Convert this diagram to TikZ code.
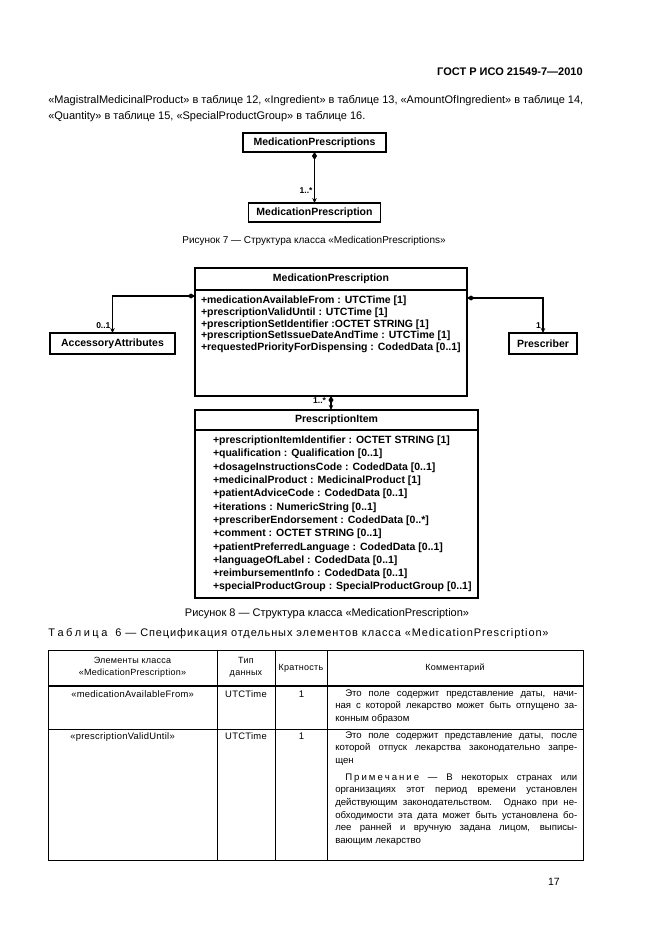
\documentclass[tikz,border=0pt]{standalone}
\usepackage{fontspec}
\setmainfont{Liberation Sans}
\newfontfamily\widefont[LetterSpace=8]{Liberation Sans}
\newfontfamily\cellfont[LetterSpace=3]{Liberation Sans}
\usetikzlibrary{arrows.meta,positioning}
\tikzstyle{classhead} = [rectangle, draw, line width=1.3pt, outer sep=0pt, inner sep=0pt,
    font=\fontsize{10.5}{11}\selectfont\bfseries, text centered]
\tikzstyle{classbody} = [rectangle, draw, line width=1.3pt, outer sep=0pt, inner ysep=5pt,
    font=\fontsize{10.5}{11.7}\selectfont\bfseries]
\tikzstyle{comp} = [{Diamond[length=8pt,width=5pt]}-{Stealth[length=5pt,width=4.5pt]},
    line width=1.1pt]
\tikzstyle{mult} = [font=\fontsize{8.5}{9}\selectfont\bfseries, inner sep=1.5pt]
\tikzstyle{cell} = [font=\fontsize{9.6}{12.7}\selectfont, inner sep=0pt]
\tikzstyle{note} = [cell, anchor=north west, text width=242pt, align=justify]

\begin{document}
\begin{tikzpicture}[x=1pt,y=-1pt,semithick]
  \fill[white] (0,0) rectangle (661,936);
  \useasboundingbox (0,0) rectangle (661,936);

  % header and text
  \node[anchor=east, font=\fontsize{11}{13}\selectfont\bfseries, inner sep=0pt] (gost) at (583,72)
      {ГОСТ Р ИСО 21549-7—2010};
  \node[anchor=north west, text width=535pt, align=justify, inner sep=0pt,
        font=\fontsize{11}{16}\selectfont] (para) at (48,95)
      {«MagistralMedicinalProduct» в таблице 12, «Ingredient» в таблице 13, «AmountOfIngredient» в таблице 14,\linebreak
       «Quantity» в таблице 15, «SpecialProductGroup» в таблице 16.};

  % figure 7
  \node[classhead, minimum width=143pt, minimum height=19pt] (mps) at (314.5,142.5) {MedicationPrescriptions};
  \node[classhead, minimum width=132pt, minimum height=19pt] (mpone) at (314.5,212.5) {MedicationPrescription};
  \draw[comp] (mps) -- node[mult, left, pos=0.75] {1..*} (mpone);
  \node[font=\fontsize{10}{12}\selectfont] (cap7) at (314,241)
      {Рисунок 7 — Структура класса «MedicationPrescriptions»};

  % figure 8
  \node[classhead, minimum width=272pt, minimum height=22pt] (mp) at (331,279) {MedicationPrescription};
  \node[classbody, inner xsep=6pt, inner ysep=6pt, below=0pt of mp] (mpb)
      {\parbox[t][94pt][t]{260pt}{\raggedright
       +medicationAvailableFrom : UTCTime [1]\\
       +prescriptionValidUntil : UTCTime [1]\\
       +prescriptionSetIdentifier :OCTET STRING [1]\\
       +prescriptionSetIssueDateAndTime : UTCTime [1]\\
       +requestedPriorityForDispensing : CodedData [0..1]}};
  \node[classhead, minimum width=125pt, minimum height=21pt] (acc) at (112.5,343.5) {AccessoryAttributes};
  \node[classhead, minimum width=68pt, minimum height=21pt] (presc) at (543,343.5) {Prescriber};
  \node[classhead, minimum width=283pt, minimum height=20pt] (item) at (336.5,420) {PrescriptionItem};
  \node[classbody, inner xsep=0pt, inner ysep=6pt, below=0pt of item,
        font=\fontsize{10.5}{13.3}\selectfont\bfseries] (itemb)
      {\parbox[t][156pt][t]{283pt}{\raggedright\leftskip=18pt
       +prescriptionItemIdentifier : OCTET STRING [1]\\
       +qualification : Qualification [0..1]\\
       +dosageInstructionsCode : CodedData [0..1]\\
       +medicinalProduct : MedicinalProduct [1]\\
       +patientAdviceCode : CodedData [0..1]\\
       +iterations : NumericString [0..1]\\
       +prescriberEndorsement : CodedData [0..*]\\
       +comment : OCTET STRING [0..1]\\
       +patientPreferredLanguage : CodedData [0..1]\\
       +languageOfLabel : CodedData [0..1]\\
       +reimbursementInfo : CodedData [0..1]\\
       +specialProductGroup : SpecialProductGroup [0..1]}};

  \draw[comp] ([yshift=-6pt]mpb.north west) -| node[mult, left, pos=0.9] {0..1} (acc);
  \draw[comp] ([yshift=-8pt]mpb.north east) -| node[mult, left, pos=0.9] {1} (presc);
  \draw[comp] (mpb.south) -- node[mult, left=3pt, pos=0.3] {1..*} (mpb.south |- item.north);

  \node[font=\fontsize{11}{13}\selectfont] (cap8) at (327,614)
      {Рисунок 8 — Структура класса «MedicationPrescription»};

  % table 6
  \node[anchor=west, font=\fontsize{11}{12}\widefont, inner sep=0pt] (tab6) at (48,634)
      {Т\hspace{2.5pt}а\hspace{2.5pt}б\hspace{2.5pt}л\hspace{2.5pt}и\hspace{2.5pt}ц\hspace{2.5pt}а\ \ 6 — Спецификация отдельных элементов класса «MedicationPrescription»};
  \draw[line width=0.8pt] (48,650) rectangle (583,860);
  \draw[line width=2pt] (48,686) -- (583,686);
  \draw[line width=0.8pt] (48,729) -- (583,729);
  \foreach \x in {217,275,327}
    \draw[line width=0.8pt] (\x,650) -- (\x,860);

  \node[cell, align=center, font=\fontsize{9}{12}\cellfont] (h1) at (132.5,667) {Элементы класса\\«MedicationPrescription»};
  \node[cell, align=center, font=\fontsize{9}{12}\cellfont] (h2) at (246,667) {Тип\\данных};
  \node[cell, font=\fontsize{9}{12}\cellfont] (h3) at (301,668) {Кратность};
  \node[cell, font=\fontsize{9}{12}\cellfont] (h4) at (455,668) {Комментарий};

  \node[cell, anchor=base west, font=\fontsize{9.4}{12}\cellfont] (r1a) at (71,697) {«medicationAvailableFrom»};
  \node[cell, anchor=base, font=\fontsize{9.4}{12}\cellfont] (r1b) at (246,697) {UTCTime};
  \node[cell, anchor=base] (r1c) at (301.5,697) {1};
  \node[note] (r1d) at (335,689)
      {\hspace*{10pt}Это поле содержит представление даты, начи-\linebreak
       ная с которой лекарство может быть отпущено за-\linebreak
       конным образом};

  \node[cell, anchor=base west, font=\fontsize{9.4}{12}\cellfont] (r2a) at (70,739) {«prescriptionValidUntil»};
  \node[cell, anchor=base, font=\fontsize{9.4}{12}\cellfont] (r2b) at (246,739) {UTCTime};
  \node[cell, anchor=base] (r2c) at (301.5,739) {1};
  \node[note] (r2d) at (335,731)
      {\hspace*{10pt}Это поле содержит представление даты, после\linebreak
       которой отпуск лекарства законодательно запре-\linebreak
       щен\par\vspace{4pt}
       \hspace*{10pt}П\hspace{2pt}р\hspace{2pt}и\hspace{2pt}м\hspace{2pt}е\hspace{2pt}ч\hspace{2pt}а\hspace{2pt}н\hspace{2pt}и\hspace{2pt}е — В некоторых странах или\linebreak
       организациях этот период времени установлен\linebreak
       действующим законодательством. Однако при не-\linebreak
       обходимости эта дата может быть установлена бо-\linebreak
       лее ранней и вручную задана лицом, выписы-\linebreak
       вающим лекарство};

  \node[anchor=east, font=\fontsize{10.5}{12}\selectfont, inner sep=0pt] (page) at (560,882) {17};
\end{tikzpicture}
\end{document}
